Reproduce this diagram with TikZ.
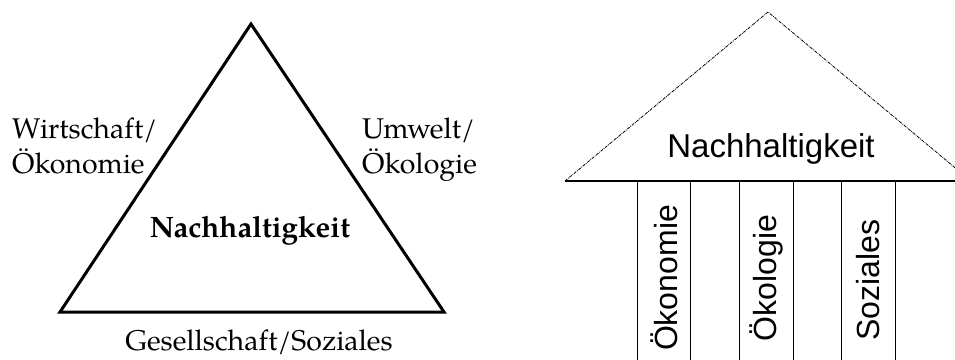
\documentclass[tikz,border=0pt]{standalone}
\usepackage{fontspec}
\setmainfont{TeX Gyre Pagella}
\newfontfamily\helv{Liberation Sans}
\begin{document}
\begin{tikzpicture}[x=1pt,y=-1pt,
  lbl/.style={inner sep=0pt,font=\fontsize{28.5}{35}\selectfont},
  blbl/.style={inner sep=0pt,font=\fontsize{29.5}{35}\selectfont\bfseries},
  slbl/.style={inner sep=0pt,font=\helv\fontsize{33}{36}\selectfont},
  pillar/.style={inner sep=0pt,rotate=90,font=\helv\fontsize{32}{36}\selectfont},
  tri/.style={line width=3pt,line join=miter},
  roof/.style={line width=0.8pt,densely dash dot},
  beam/.style={line width=1.4pt}]
\useasboundingbox (0,0) rectangle (955,359);
% left triangle
\coordinate (A) at (251,24);
\coordinate (B) at (60,312);
\coordinate (C) at (444,312);
\draw[tri] (A) -- (B) -- (C) -- cycle;
\node[blbl,anchor=base] (n1) at (250,237) {Nachhaltigkeit};
\node[lbl,anchor=base west] (w1) at (12,138) {Wirtschaft/};
\node[lbl,anchor=base west] (w2) at (12,173) {Ökonomie};
\node[lbl,anchor=base west] (u1) at (362,138) {Umwelt/};
\node[lbl,anchor=base west] (u2) at (362,173) {Ökologie};
\node[lbl,anchor=base] (g1) at (259,350) {Gesellschaft/Soziales};
% right: temple
\begin{scope}
\clip (0,0) rectangle (955,359);
\coordinate (R) at (768,12);
\coordinate (RL) at (565,181);
\coordinate (RR) at (971,181);
\draw[roof] (RL) -- (R) -- (RR);
\draw[beam] (RL) -- (RR);
\foreach \x/\n in {637/p1,690/p2,739/p3,793/p4,841/p5,895/p6}{
  \coordinate (\n t) at (\x,181);
  \coordinate (\n b) at (\x,362);
  \draw[line width=1pt] (\n t) -- (\n b);
}
\end{scope}
\node[slbl,anchor=base] (n2) at (771,157) {Nachhaltigkeit};
\node[pillar] (o1) at (664,278) {Ökonomie};
\node[pillar] (o2) at (766,278) {Ökologie};
\node[pillar] (o3) at (868,280) {Soziales};
\end{tikzpicture}
\end{document}
